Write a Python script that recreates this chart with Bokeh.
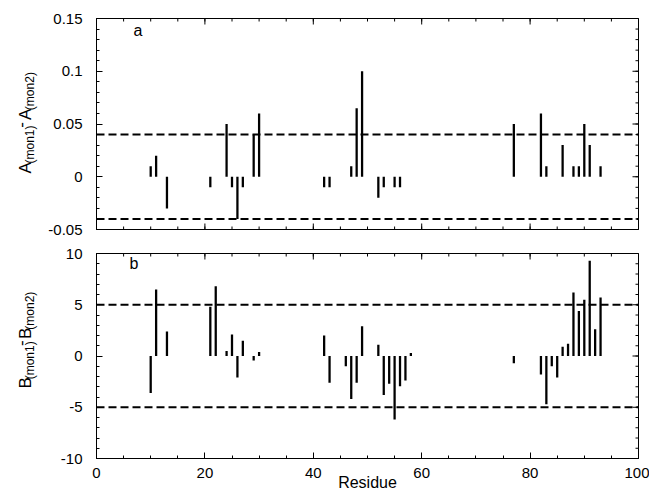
import math
from bokeh.plotting import figure
from bokeh.layouts import column, row
from bokeh.models import Range1d, FixedTicker, Span, Label
from bokeh.embed import file_html
from bokeh.resources import INLINE

# ---------------- data ----------------
residue_a = [10, 11, 13, 21, 24, 25, 26, 27, 29, 30, 42, 43, 47, 48, 49,
             52, 53, 55, 56, 77, 82, 83, 86, 88, 89, 90, 91, 93]
delta_a = [0.01, 0.02, -0.03, -0.01, 0.05, -0.01, -0.04, -0.01, 0.04, 0.06,
           -0.01, -0.01, 0.01, 0.065, 0.1, -0.02, -0.01, -0.01, -0.01,
           0.05, 0.06, 0.01, 0.03, 0.01, 0.01, 0.05, 0.03, 0.01]

residue_b = [10, 11, 13, 21, 22, 24, 25, 26, 27, 29, 30, 42, 43, 46, 47, 48, 49,
             52, 53, 54, 55, 56, 57, 58, 77, 82, 83, 84, 85, 86, 87, 88, 89, 90,
             91, 92, 93]
delta_b = [-3.6, 6.5, 2.4, 4.8, 6.8, 0.5, 2.1, -2.1, 1.5, -0.45, 0.4,
           2.0, -2.6, -1.0, -4.2, -2.6, 2.9,
           1.1, -3.8, -2.7, -6.2, -2.95, -2.4, 0.3,
           -0.7,
           -1.8, -4.7, -1.0, -2.1, 0.9, 1.2, 6.2, 4.4, 5.5, 9.3, 2.6, 5.7]

threshold_a = [0.04, -0.04]
threshold_b = [5, -5]

x_range_vals = (0, 100)
x_ticks = [0, 20, 40, 60, 80, 100]
x_tick_labels = ["0", "20", "40", "60", "80", "100"]
x_minor = [5 * i for i in range(21)]

a_range = (-0.05, 0.15)
a_ticks = [-0.05, 0, 0.05, 0.1, 0.15]
a_tick_labels = ["-0.05", "0", "0.05", "0.1", "0.15"]
a_minor = [round(-0.05 + 0.01 * i, 2) for i in range(21)]

b_range = (-10, 10)
b_ticks = [-10, -5, 0, 5, 10]
b_tick_labels = ["-10", "-5", "0", "5", "10"]
b_minor = [-10 + i for i in range(21)]

FONT = "Liberation Sans"
LABEL_W = 44
PANEL_W = 605


def style_axis(ax, ticks, labels, minor, standoff):
    ax.ticker = FixedTicker(ticks=ticks, minor_ticks=minor)
    ax.major_label_overrides = dict(zip(ticks, labels))
    ax.major_tick_in = 6
    ax.major_tick_out = 0
    ax.minor_tick_in = 3
    ax.minor_tick_out = 0
    ax.axis_line_color = "black"
    ax.major_tick_line_color = "black"
    ax.minor_tick_line_color = "black"
    ax.major_label_text_font = FONT
    ax.major_label_text_color = "black"
    ax.major_label_text_font_size = "15px"
    ax.major_label_standoff = standoff


def edge_ticks(p, yr, yt, ymin, bottom):
    # inward ticks on the right edge (and top / bottom edges) of the frame
    kw = dict(marker="dash", line_color="black", line_width=1, fill_color=None)
    p.scatter(x=[x_range_vals[1]] * len(yt), y=yt, size=12, angle=0, **kw)
    p.scatter(x=[x_range_vals[1]] * len(ymin), y=ymin, size=6, angle=0, **kw)
    edges = [yr[1]] + ([yr[0]] if bottom else [])
    for e in edges:
        p.scatter(x=x_ticks, y=[e] * len(x_ticks), size=12, angle=math.pi / 2, **kw)
        p.scatter(x=x_minor, y=[e] * len(x_minor), size=6, angle=math.pi / 2, **kw)


def make_panel(height, yr, yt, ytl, ymin, top, bottom, show_x):
    p = figure(width=PANEL_W, height=height, x_range=Range1d(*x_range_vals),
               y_range=Range1d(*yr), output_backend="svg",
               toolbar_location=None, min_border_left=52,
               min_border_right=11, min_border_top=top,
               min_border_bottom=bottom)
    p.grid.visible = False
    p.outline_line_color = "black"
    p.outline_line_width = 1
    p.background_fill_color = "white"
    p.border_fill_color = "white"
    style_axis(p.yaxis[0], yt, ytl, ymin, 14)
    if show_x:
        style_axis(p.xaxis[0], x_ticks, x_tick_labels, x_minor, 9)
    else:
        p.xaxis.visible = False
    edge_ticks(p, yr, yt, ymin, not show_x)
    return p


def label_fig(height, letter, y0):
    f = figure(width=LABEL_W, height=height, x_range=Range1d(0, LABEL_W),
               y_range=Range1d(0, height), min_border=0,
               toolbar_location=None, output_backend="svg",
               x_axis_type=None, y_axis_type=None)
    f.grid.visible = False
    f.outline_line_color = None
    f.background_fill_color = "white"
    f.border_fill_color = "white"
    main, sub = 17, 12
    pieces = [(letter, 25, main, 0.667 * main),
              ("(mon1)", 29, sub, 3.167 * sub + 3),
              ("-", 20.5, main, 0.333 * main + 3),
              (letter, 25, main, 0.667 * main),
              ("(mon2)", 29, sub, 3.167 * sub)]
    y = y0
    for text, x, fs, adv in pieces:
        f.add_layout(Label(x=x, y=y, text=text, angle=math.pi / 2,
                           text_font=FONT, text_font_size=f"{fs}px",
                           text_color="black", text_align="left",
                           text_baseline="alphabetic"))
        y += adv
    return f


# ---------------- panel a ----------------
H_A = 241
pa = make_panel(H_A, a_range, a_ticks, a_tick_labels, a_minor, 18, 12, False)
pa.vbar(x=residue_a, top=delta_a, bottom=0, width=0.42,
        fill_color="black", line_color=None)
for t in threshold_a:
    pa.add_layout(Span(location=t, dimension="width", line_color="black",
                       line_width=2, line_dash="8 4"))
pa.add_layout(Label(x=37, y=191, x_units="screen", y_units="screen", text="a",
                    text_font=FONT, text_font_size="16px", text_color="black"))
la = label_fig(H_A, "A", 64)

# ---------------- panel b ----------------
H_B = 252
pb = make_panel(H_B, b_range, b_ticks, b_tick_labels, b_minor, 12, 33, True)
pb.vbar(x=residue_b, top=delta_b, bottom=0, width=0.42,
        fill_color="black", line_color=None)
for t in threshold_b:
    pb.add_layout(Span(location=t, dimension="width", line_color="black",
                       line_width=2, line_dash="8 4"))
pb.add_layout(Label(x=33, y=187, x_units="screen", y_units="screen", text="b",
                    text_font=FONT, text_font_size="16px", text_color="black"))
pb.xaxis.axis_label = "Residue"
pb.xaxis.axis_label_text_font = FONT
pb.xaxis.axis_label_text_font_size = "16px"
pb.xaxis.axis_label_text_font_style = "normal"
pb.xaxis.axis_label_text_color = "black"
pb.xaxis.axis_label_standoff = -7
lb = label_fig(H_B, "B", 86)

layout = column(row(la, pa, spacing=0), row(lb, pb, spacing=0), spacing=0)
open("out.html", "w").write(file_html(layout, INLINE))
